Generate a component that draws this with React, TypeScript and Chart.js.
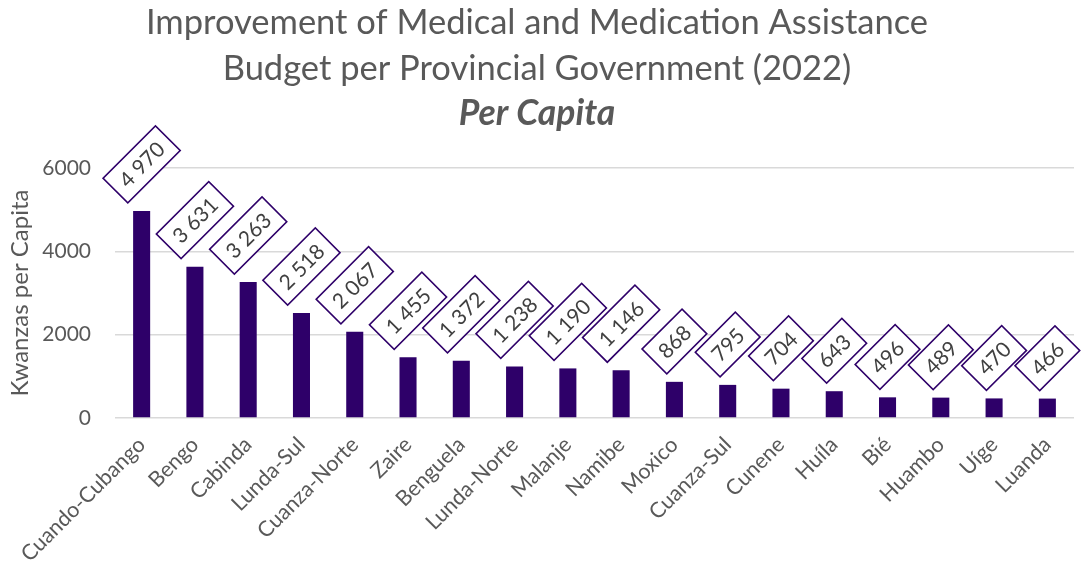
import React, { useEffect, useRef } from "react";
import { Chart, registerables } from "chart.js";

Chart.register(...registerables);

const provinces = [
  "Cuando-Cubango", "Bengo", "Cabinda", "Lunda-Sul", "Cuanza-Norte", "Zaire",
  "Benguela", "Lunda-Norte", "Malanje", "Namibe", "Moxico", "Cuanza-Sul",
  "Cunene", "Huíla", "Bié", "Huambo", "Uíge", "Luanda",
];
const perCapita = [4970, 3631, 3263, 2518, 2067, 1455, 1372, 1238, 1190, 1146, 868, 795, 704, 643, 496, 489, 470, 466];
const yTicks = [0, 2000, 4000, 6000];
const titleLines = ["Improvement of Medical and Medication Assistance", "Budget per Provincial Government (2022)"];
const subtitleText = "Per Capita";
const yAxisTitle = "Kwanzas per Capita";

const FONT = "Lato";
const GRAY = "#595959";
const PURPLE = "#2E0069";

const fmt = (v: number) => {
  const s = String(v);
  return s.length > 3 ? s.slice(0, s.length - 3) + " " + s.slice(-3) : s;
};

const boxLabels = {
  id: "boxLabels",
  afterDatasetsDraw(chart: any) {
    const ctx = chart.ctx;
    const meta = chart.getDatasetMeta(0);
    ctx.save();
    ctx.font = `21px ${FONT}`;
    const padX = 10;
    const h = 35;
    const gap = 8;
    meta.data.forEach((bar: any, i: number) => {
      const text = fmt(perCapita[i]);
      const tw = ctx.measureText(text).width;
      const w = tw + 2 * padX;
      const half = (w + h) / (2 * Math.SQRT2);
      const cx = bar.x;
      const cy = bar.y - gap - half;
      ctx.save();
      ctx.translate(cx, cy);
      ctx.rotate(-Math.PI / 4);
      ctx.fillStyle = "#ffffff";
      ctx.fillRect(-w / 2, -h / 2, w, h);
      ctx.strokeStyle = PURPLE;
      ctx.lineWidth = 1.6;
      ctx.strokeRect(-w / 2, -h / 2, w, h);
      ctx.fillStyle = "#404040";
      ctx.textAlign = "center";
      ctx.textBaseline = "middle";
      ctx.fillText(text, 0, 1);
      ctx.restore();
    });
    ctx.restore();
  },
};

export default function App() {
  const ref = useRef<HTMLCanvasElement>(null);
  useEffect(() => {
    if (!ref.current) return;
    const chart = new Chart(ref.current, {
      type: "bar",
      data: {
        labels: provinces,
        datasets: [
          {
            data: perCapita,
            backgroundColor: PURPLE,
            barPercentage: 0.32,
            categoryPercentage: 1,
          },
        ],
      },
      options: {
        animation: false,
        responsive: true,
        maintainAspectRatio: false,
        layout: { padding: { left: 0, right: 8, top: 0, bottom: 0 } },
        plugins: {
          legend: { display: false },
          tooltip: { enabled: false },
          title: {
            display: true,
            text: titleLines,
            color: GRAY,
            font: { family: FONT, size: 34.5, weight: "normal", lineHeight: 1.333 },
            padding: { top: 0, bottom: 0 },
          },
          subtitle: {
            display: true,
            text: subtitleText,
            color: GRAY,
            font: { family: FONT, size: 35.5, weight: "bold", style: "italic", lineHeight: 1.24 },
            padding: { top: 0, bottom: 32 },
          },
        },
        scales: {
          x: {
            grid: { display: false },
            border: { display: false },
            ticks: {
              color: GRAY,
              font: { family: FONT, size: 21.5 },
              minRotation: 45,
              maxRotation: 45,
              autoSkip: false,
              padding: 6,
            },
            afterFit: (scale: any) => {
              scale.height = 151;
            },
          },
          y: {
            min: 0,
            max: 6000,
            afterBuildTicks: (scale: any) => {
              scale.ticks = yTicks.map((v) => ({ value: v }));
            },
            grid: { color: "#D9D9D9", lineWidth: 1.5, drawTicks: false },
            border: { display: false },
            ticks: {
              color: GRAY,
              font: { family: FONT, size: 21 },
              padding: 24,
              callback: (v: any) => String(v),
            },
            title: {
              display: true,
              text: yAxisTitle,
              color: GRAY,
              font: { family: FONT, size: 24 },
              padding: { top: 6, bottom: 0 },
            },
            afterFit: (scale: any) => {
              scale.width = 115;
            },
          },
        },
      },
      plugins: [boxLabels],
    });
    return () => chart.destroy();
  }, []);
  return (
    <div style={{ position: "absolute", left: 0, top: 0, width: 1082, height: 569 }}>
      <canvas ref={ref} />
    </div>
  );
}
